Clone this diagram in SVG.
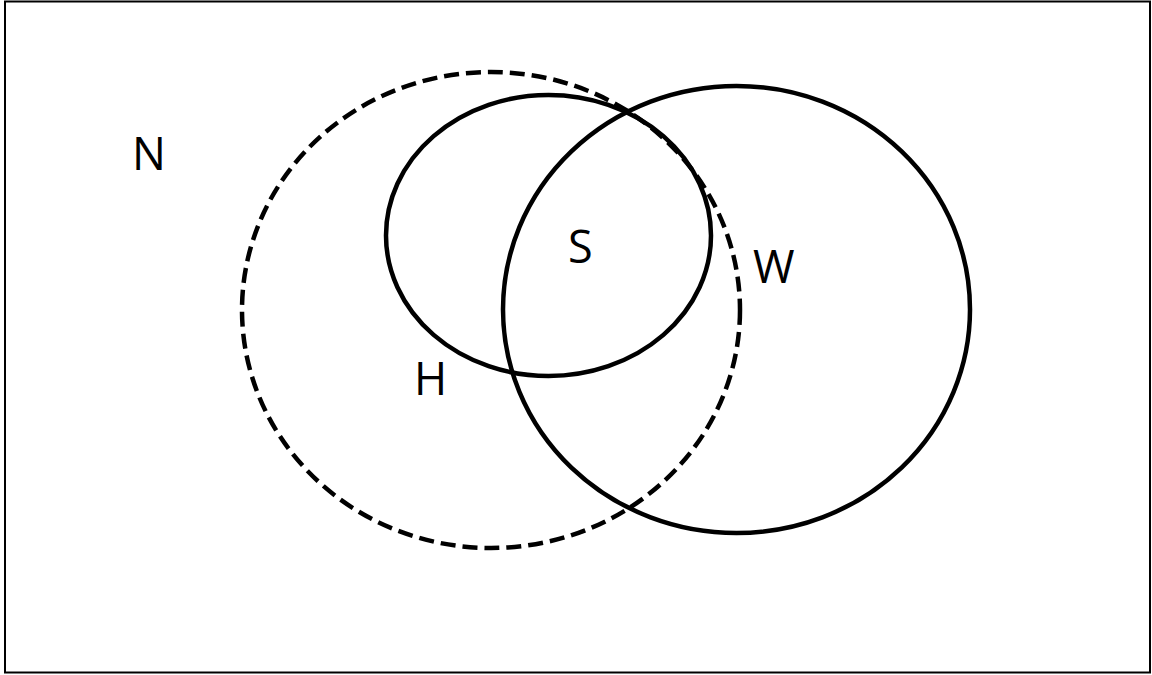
<svg xmlns="http://www.w3.org/2000/svg" width="1152" height="675" viewBox="0 0 1152 675">
<style>
.set{fill:none;stroke:#000;stroke-width:4.5}
.dash{stroke-dasharray:15 7}
.lbl{font-family:"Open Sans","Liberation Sans",Arial,sans-serif;font-size:45px;fill:#000}
</style>
<rect x="0" y="0" width="1152" height="675" fill="#fff"/>
<rect id="frame" x="5" y="1.5" width="1145" height="671" fill="none" stroke="#000" stroke-width="2"/>
<g id="N"><text class="lbl" x="132" y="170">N</text></g>
<g id="H"><ellipse class="set dash" cx="491" cy="310" rx="249" ry="238"/><text class="lbl" x="414" y="395">H</text></g>
<g id="S"><ellipse class="set" cx="548.5" cy="235.5" rx="162.5" ry="140.5"/><text class="lbl" x="568" y="263">S</text></g>
<g id="W"><ellipse class="set" cx="736.5" cy="309.5" rx="233.5" ry="223.5"/><text class="lbl" x="753" y="283">W</text></g>
<g id="connectors"/>
</svg>
